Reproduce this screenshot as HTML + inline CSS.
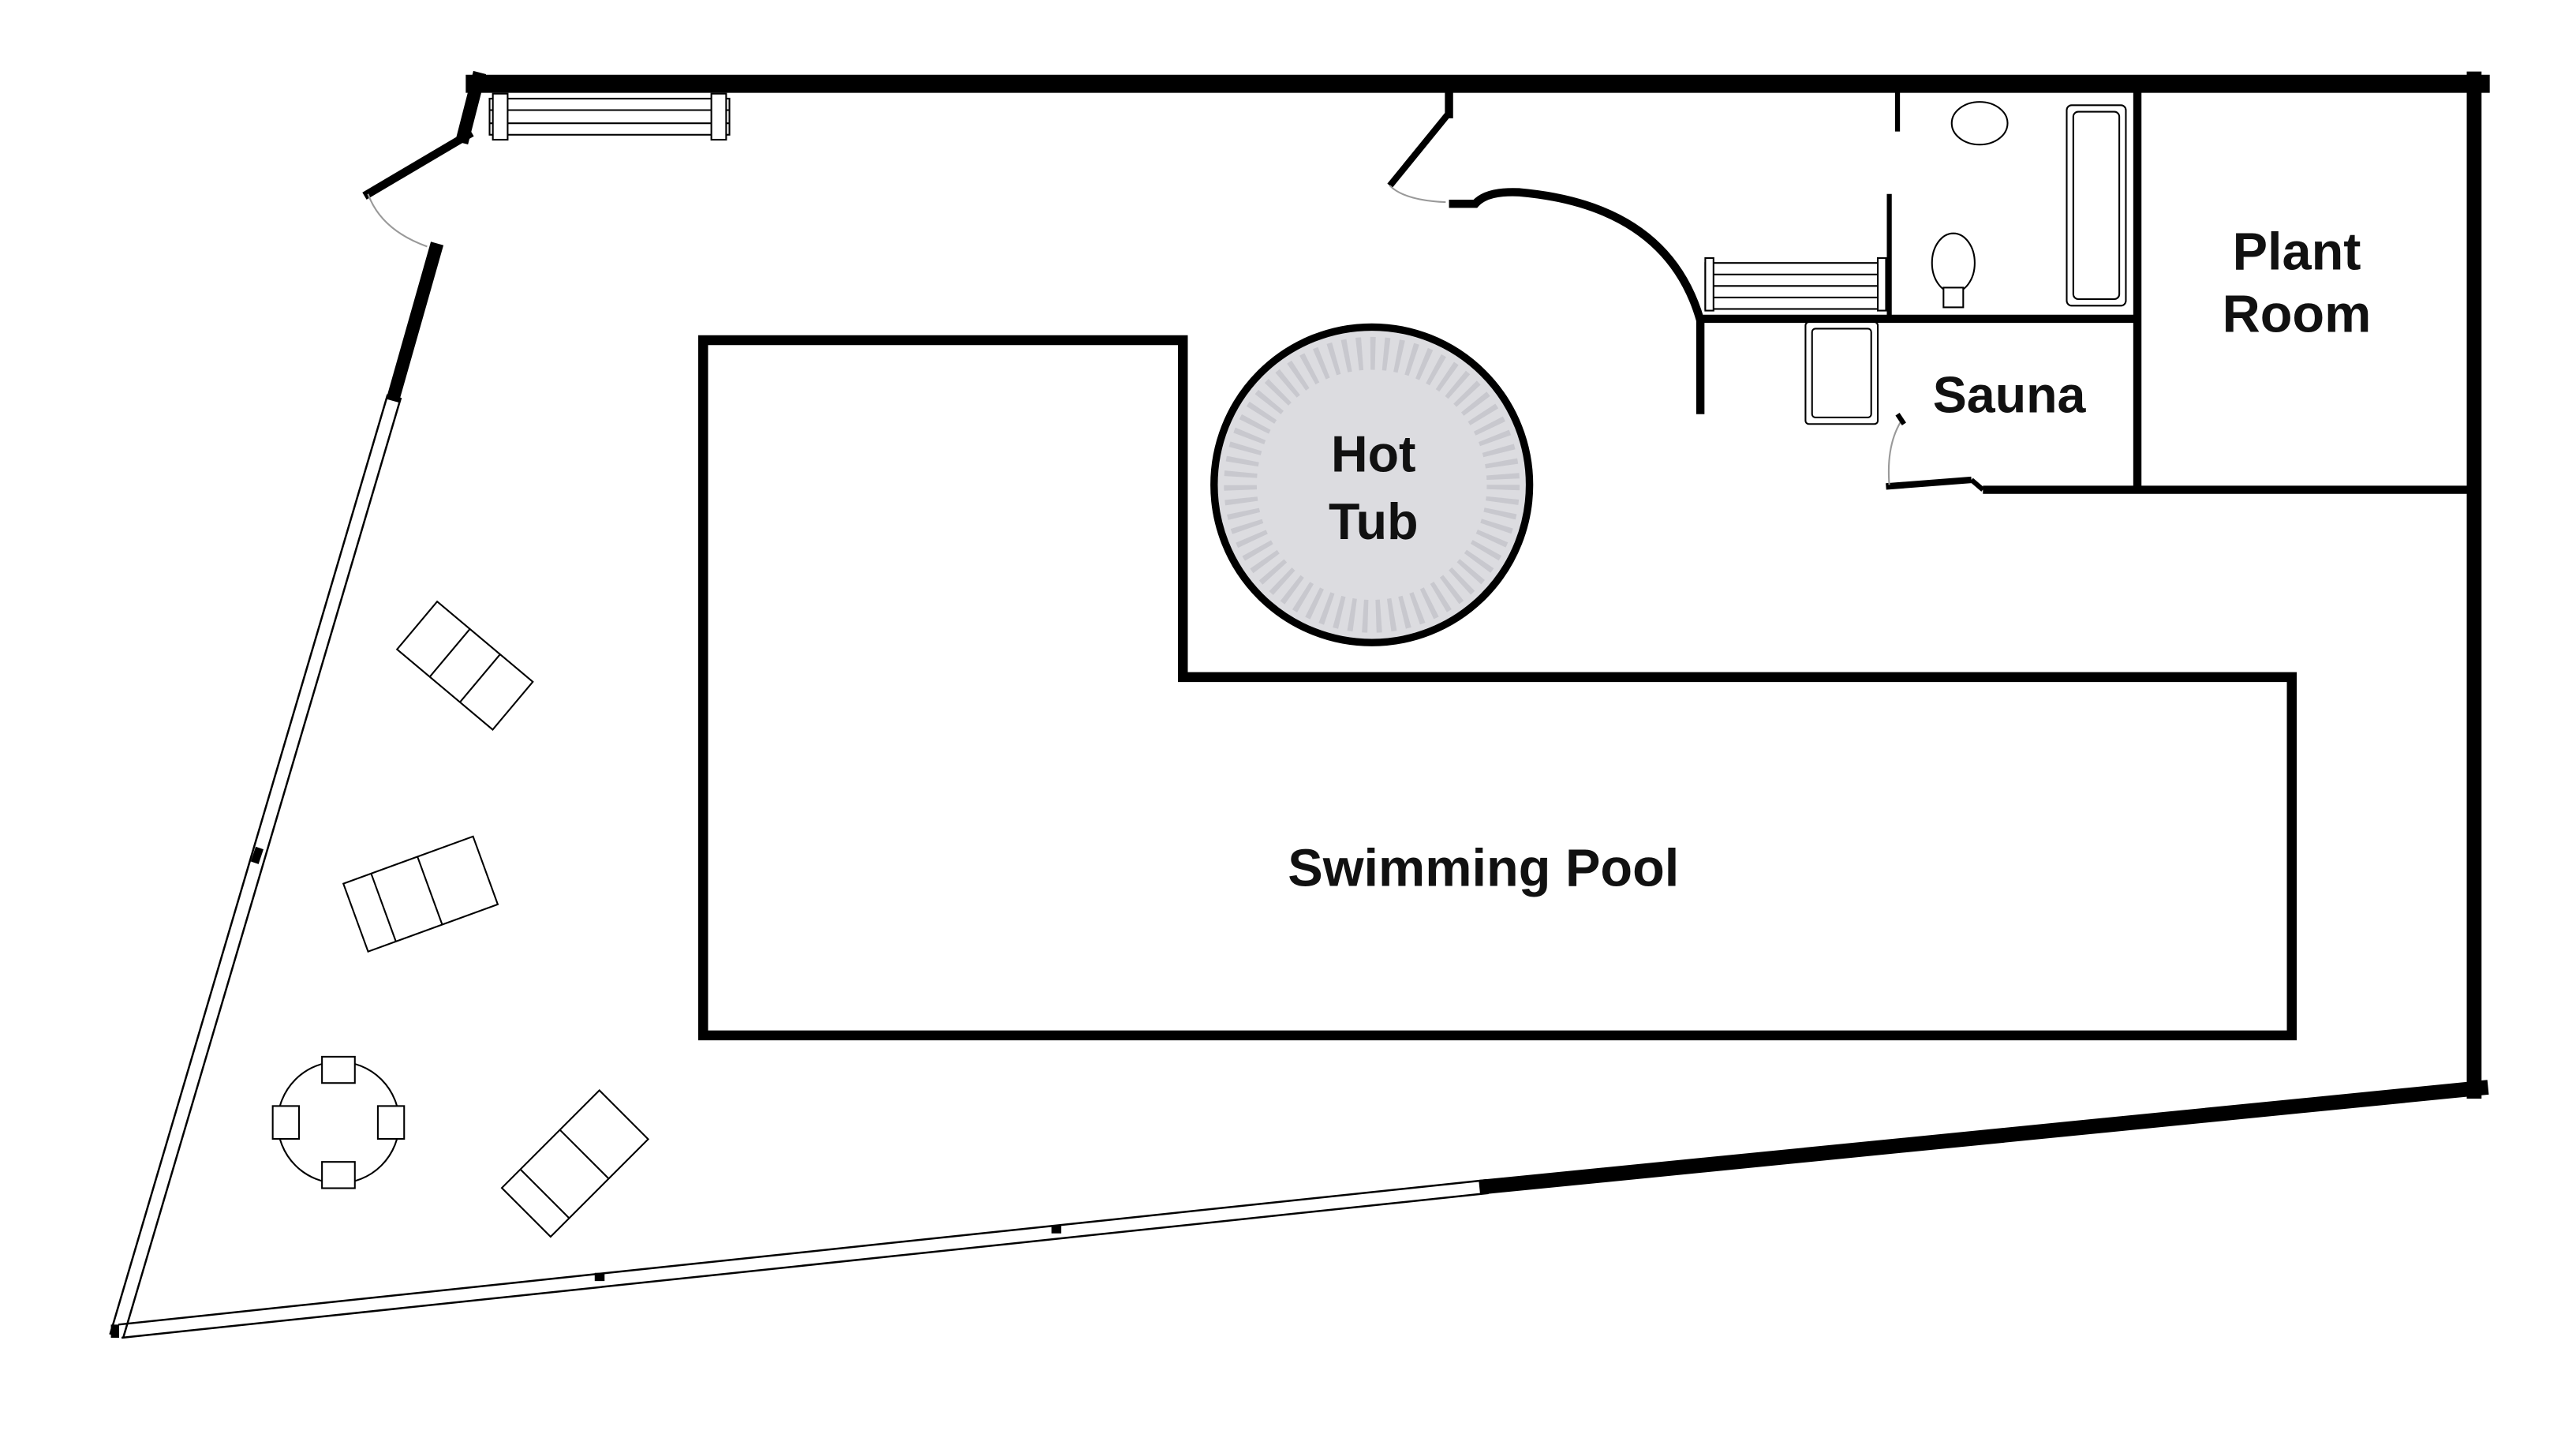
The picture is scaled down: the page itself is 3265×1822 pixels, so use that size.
<!DOCTYPE html>
<html><head><meta charset="utf-8"><style>
html,body{margin:0;padding:0;background:#fff;}
svg{display:block;}
text{font-family:"Liberation Sans",Arial,sans-serif;font-weight:bold;fill:#111;text-anchor:middle;}
</style></head><body>
<svg width="3265" height="1822" viewBox="0 0 1568 875" xmlns="http://www.w3.org/2000/svg">
<rect width="1568" height="875" fill="#fff"/>
<g stroke="#000" fill="none" stroke-linecap="square">
<line x1="289" y1="51" x2="1510" y2="51" stroke-width="11"/>
<line x1="1506" y1="48" x2="1506" y2="664" stroke-width="9"/>
<line x1="1510" y1="662" x2="905" y2="722" stroke-width="9"/>
<line x1="291" y1="48" x2="282" y2="83" stroke-width="8"/>
<line x1="285" y1="82" x2="224" y2="118" stroke-width="5"/>
<line x1="265" y1="152" x2="240" y2="240" stroke-width="8"/>
</g>
<path d="M224,118 Q232,140 260,150" stroke="#999" stroke-width="1" fill="none"/>
<g stroke="#000" stroke-width="1.2" fill="none">
<line x1="236" y1="240" x2="67" y2="812"/>
<line x1="244" y1="242" x2="75" y2="814"/>
<line x1="905" y1="718" x2="72" y2="806"/>
<line x1="906" y1="726" x2="74" y2="814"/>
</g>
<g stroke="#000" stroke-width="5">
<line x1="158" y1="516" x2="155" y2="525"/>
<line x1="362" y1="777" x2="368" y2="777"/>
<line x1="640" y1="748" x2="646" y2="748"/>
<line x1="70" y1="806" x2="70" y2="814"/>
</g>
<g stroke="#000" fill="none">
<line x1="882" y1="55" x2="882" y2="72" stroke-width="5"/>
<line x1="881" y1="70" x2="846" y2="113" stroke-width="4"/>
<path d="M846,113 Q855,122 880,123" stroke="#999" stroke-width="1"/>
<path d="M882,124 L898,124 Q905,116 925,117 Q1015,125 1035,195 L1035,252" stroke-width="5"/>
<line x1="1035" y1="194" x2="1300" y2="194" stroke-width="5"/>
<line x1="1301" y1="53" x2="1301" y2="298" stroke-width="5"/>
<line x1="1207" y1="298" x2="1506" y2="298" stroke-width="5"/>
<line x1="1148" y1="296" x2="1200" y2="292" stroke-width="4"/>
<line x1="1200" y1="292" x2="1207" y2="298" stroke-width="3"/>
<path d="M1150,295 Q1148,270 1158,255" stroke="#999" stroke-width="1"/>
<line x1="1155" y1="55" x2="1155" y2="80" stroke-width="3"/>
<line x1="1150" y1="118" x2="1150" y2="195" stroke-width="3"/>
<line x1="1155" y1="252" x2="1159" y2="258" stroke-width="3"/>
</g>
<path d="M428,207 L720,207 L720,412 L1395,412 L1395,630 L428,630 Z" fill="#fff" stroke="#000" stroke-width="6"/>
<circle cx="835" cy="295" r="96" fill="#dcdce0" stroke="#000" stroke-width="4.5"/>
<circle cx="835" cy="295" r="80" fill="none" stroke="#c8c8ce" stroke-width="20" stroke-dasharray="3 5"/>
<g stroke="#000" stroke-width="1" fill="#fff">
<rect x="298" y="60" width="146" height="22"/>
<line x1="298" y1="67" x2="444" y2="67"/><line x1="298" y1="75" x2="444" y2="75"/>
<rect x="300" y="57" width="9" height="28"/><rect x="433" y="57" width="9" height="28"/>
<rect x="1038" y="160" width="110" height="28"/>
<line x1="1038" y1="167" x2="1148" y2="167"/><line x1="1038" y1="174" x2="1148" y2="174"/><line x1="1038" y1="181" x2="1148" y2="181"/>
<rect x="1038" y="157" width="5" height="32"/><rect x="1143" y="157" width="5" height="32"/>
<ellipse cx="1205" cy="75" rx="17" ry="13"/>
<rect x="1258" y="64" width="36" height="122" rx="3"/>
<rect x="1262" y="68" width="28" height="114" rx="3"/>
<ellipse cx="1189" cy="160" rx="13" ry="18"/>
<rect x="1183" y="175" width="12" height="12"/>
<rect x="1099" y="196" width="44" height="62" rx="2"/>
<rect x="1103" y="200" width="36" height="54" rx="2"/>
<g transform="translate(283,405) rotate(40)"><rect x="-38" y="-19" width="76" height="38"/><line x1="-12" y1="-19" x2="-12" y2="19"/><line x1="12" y1="-19" x2="12" y2="19"/></g>
<g transform="translate(256,544) rotate(-20)"><rect x="-42" y="-22" width="84" height="44"/><line x1="-24" y1="-22" x2="-24" y2="22"/><line x1="6" y1="-22" x2="6" y2="22"/></g>
<g transform="translate(350,708) rotate(-45)"><rect x="-42" y="-21" width="84" height="42"/><line x1="-26" y1="-21" x2="-26" y2="21"/><line x1="8" y1="-21" x2="8" y2="21"/></g>
<circle cx="206" cy="683" r="37"/>
<rect x="196" y="643" width="20" height="16"/><rect x="196" y="707" width="20" height="16"/>
<rect x="166" y="673" width="16" height="20"/><rect x="230" y="673" width="16" height="20"/>
</g>
<text x="1398" y="164" font-size="32">Plant</text>
<text x="1398" y="202" font-size="32">Room</text>
<text x="1223" y="251" font-size="31">Sauna</text>
<text x="836" y="287" font-size="31">Hot</text>
<text x="836" y="328" font-size="31">Tub</text>
<text x="903" y="539" font-size="32">Swimming Pool</text>
</svg>
</body></html>
